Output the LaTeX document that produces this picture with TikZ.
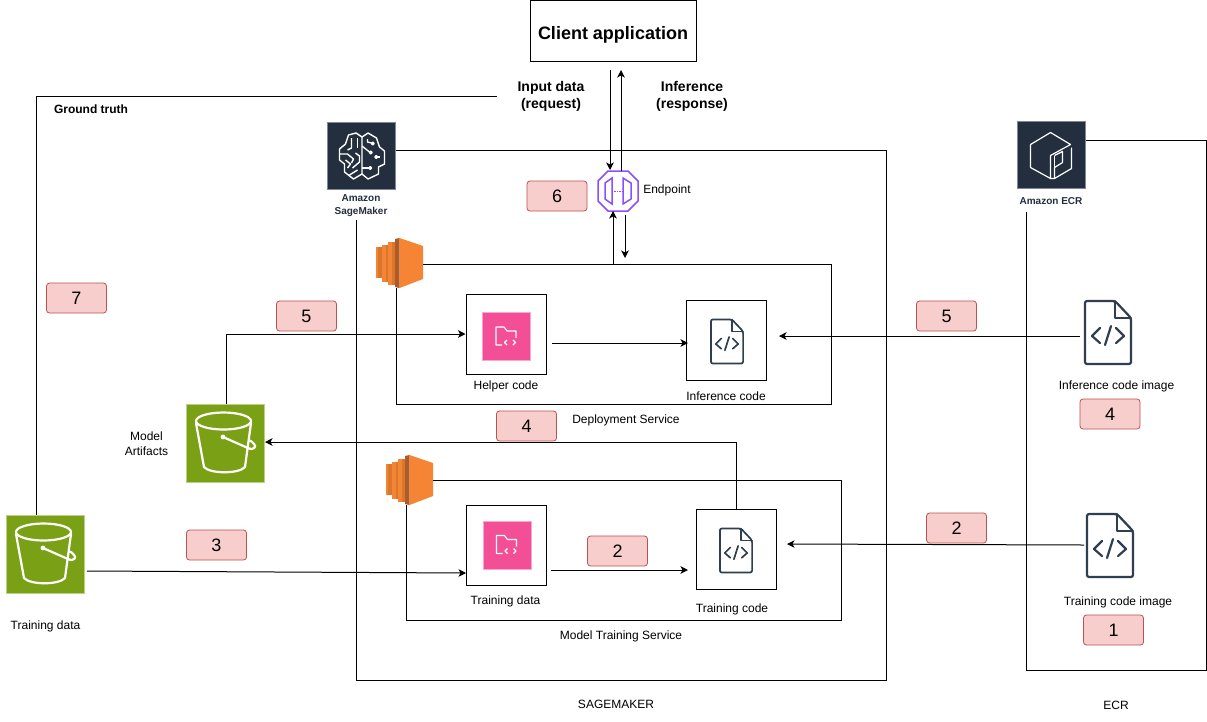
\documentclass[tikz,border=0pt]{standalone}
\usepackage{fontspec}
\setmainfont{Liberation Sans}
\usetikzlibrary{arrows.meta}
\definecolor{awsdark}{HTML}{232F3E}
\definecolor{awsborder}{HTML}{7D8998}
\definecolor{s3green}{HTML}{7AA116}
\definecolor{s3edge}{HTML}{BCD08A}
\definecolor{pinkfill}{HTML}{F34F97}
\definecolor{pinkedge}{HTML}{F9A7CB}
\definecolor{ecorange}{HTML}{F58534}
\definecolor{ecdark}{HTML}{9D5025}
\definecolor{ecmid}{HTML}{D9772C}
\definecolor{endp}{HTML}{8C4FFF}
\definecolor{redfill}{HTML}{F8CECC}
\definecolor{rededge}{HTML}{B85450}
\definecolor{doccol}{HTML}{2F3E50}
\newcommand{\doclw}{2.2pt}
\tikzset{
  frameline/.style={draw=black,line width=1pt},
  conn/.style={draw=black,line width=1pt,-{Stealth[length=7.5pt,width=7.5pt,inset=2pt]}},
  whitebox/.style={draw=black,line width=1pt,fill=white,minimum width=80pt,minimum height=80pt,inner sep=0pt},
  awsicon/.style={draw=awsborder,line width=.8pt,fill=awsdark,inner sep=0pt,minimum width=68pt,minimum height=67pt},
  bucketbox/.style={draw=s3edge,line width=1pt,fill=s3green,inner sep=0pt,minimum width=78pt,minimum height=78pt},
  pinkbox/.style={draw=pinkedge,line width=1pt,fill=pinkfill,inner sep=0pt,minimum width=48pt,minimum height=48pt},
  badge/.style={draw=rededge,line width=.8pt,fill=redfill,rounded corners=3pt,minimum width=60pt,minimum height=30pt,inner sep=0pt,font=\fontsize{18}{20}\selectfont},
  lab/.style={inner sep=0pt,align=center,yshift=-.8pt,font=\fontsize{12}{15}\selectfont},
  blab/.style={inner sep=0pt,align=center,yshift=-.8pt,font=\fontsize{14}{17}\selectfont\bfseries},
  iconlab/.style={inner sep=0pt,align=center,text=awsdark,font=\fontsize{10}{13}\selectfont\bfseries},
  bucketpic/.pic={
    \begin{scope}[shift={(-39.5,-39.5)},draw=white,line width=2.2pt,line join=round,line cap=round]
      \draw (37.5,17) ellipse [x radius=27.5,y radius=8.5];
      \draw (10,19) -- (18,63) .. controls (24,70) and (53,70) .. (59,63) -- (65,19);
      \fill[white] (37,33) circle (2.4);
      \draw (37,33) -- (62,44) .. controls (68,47) and (71,42) .. (68,40) .. controls (67,38) and (65,37) .. (63.5,36.5);
    \end{scope}},
  docpic/.pic={
    \begin{scope}[shift={(-23,-31.5)},draw=doccol,line join=round,line cap=round,line width=\doclw]
      \draw[rounded corners=2pt] (0,0) -- (30,0) -- (46,17) -- (46,63) -- (0,63) -- cycle;
      \draw (30,0) -- (30,17) -- (46,17);
      \draw (15,27) -- (7,35) -- (15,42);
      \draw (20,44) -- (26,25);
      \draw (31,27) -- (39,35) -- (31,42);
    \end{scope}},
  folderpic/.pic={
    \begin{scope}[shift={(-24.5,-24.5)},draw=white,line width=1.1pt,line join=round]
      \draw (20,33) -- (14,33) -- (14,15) -- (22,15) -- (25,19) -- (34,19) -- (34,26);
      \draw (25,28) -- (22.5,30.5) -- (25,33);
      \draw (31,28) -- (33.5,30.5) -- (31,33);
    \end{scope}},
  ecpic/.pic={
    \begin{scope}[shift={(-23.5,-25)}]
      \fill[ecorange] (0,9) rectangle (6,40);
      \fill[ecmid] (2,9) rectangle (6,40);
      \fill[ecorange] (6,6.5) rectangle (12,43.5);
      \fill[ecmid] (10,6.5) rectangle (12,43.5);
      \fill[ecorange] (12,4) rectangle (19,46.5);
      \fill[ecmid] (16,4) rectangle (19,46.5);
      \fill[ecdark!80!ecorange] (19,1) -- (23.5,0) -- (23.5,50) -- (19,49) -- cycle;
      \fill[ecorange] (23.5,0) -- (47,8) -- (47,41) -- (23.5,50) -- cycle;
    \end{scope}},
  endpic/.pic={
    \begin{scope}[shift={(-20,-20)},draw=endp,line width=1.5pt,line join=miter]
      \draw (10,0) -- (30,0) -- (40,10) -- (40,30) -- (30,40) -- (10,40) -- (0,30) -- (0,10) -- cycle;
      \draw (14,7) -- (14,33) -- (7,28) -- (7,12) -- cycle;
      \draw (25,7) -- (33,12) -- (33,28) -- (25,33) -- cycle;
      \draw[line width=.8pt,dash pattern=on 1.5pt off 1pt] (16,20) -- (24,20);
    \end{scope}},
  brainpic/.pic={
    \begin{scope}[shift={(-34,-33.5)},draw=white,line width=1.4pt,line join=round]
      \draw (34.5,15) -- (28.5,11) -- (21,13) -- (18,22) -- (12,27) -- (12,38) -- (17,42) -- (17,50) -- (26,57) -- (34.5,52) -- cycle;
      \draw (34.5,15) -- (40.5,11) -- (49,16) -- (52,25) -- (57,29) -- (57,42) -- (51,45) -- (51,52) -- (40.5,57) -- (34.5,52);
      \draw (34.5,24) -- (42,30); \draw (43.3,30.5) circle (1.4);
      \draw (34.5,46) -- (41.5,46); \draw (42.8,46) circle (1.4);
      \draw (40,17) -- (40,20) -- (44,21); \draw (45.3,21.5) circle (1.4);
      \draw (52,35) -- (50,35); \draw (48.7,35) circle (1.4);
      \draw (24,16) -- (24,26) -- (20,28);
      \draw (30,16) -- (30,26);
      \draw (12,32) -- (20,32) -- (26,37) -- (24,41);
      \draw (18,38) -- (23,42) -- (20,46);
      \draw (28,31) -- (32,34) -- (32,40) -- (25,46);
      \draw (22,53) -- (30,48);
    \end{scope}},
  ecrpic/.pic={
    \begin{scope}[shift={(-34,-33.5)},draw=white,line width=1.2pt,line join=round]
      \draw (33,11) -- (13,23) -- (13,46) -- (33,57) -- (33,34) -- (53,23) -- (33,11);
      \draw (33,57) -- (37,57) -- (54,47) -- (54,26);
      \draw (37,34) -- (45,30) -- (45,41) -- (37,46) -- (37,57);
      \draw (37,34) -- (37,46);
    \end{scope}}
}
\begin{document}
\begin{tikzpicture}[x=1pt,y=-1pt]
\useasboundingbox (0,0) rectangle (1207,721);
\fill[white] (0,0) rectangle (1207,721);

% main icons
\node[awsicon] (sm) at (361.5,155.5) {};
\pic at (sm.center) {brainpic};
\node[iconlab] (smlab) at (361,205.5) {Amazon\\SageMaker};
\node[awsicon] (ecr) at (1051.5,155) {};
\pic at (ecr.center) {ecrpic};
\node[iconlab] (ecrlab) at (1051,201.5) {Amazon ECR};

% client
\node[draw=black,line width=1pt,fill=white,minimum width=166pt,minimum height=61pt,inner sep=0pt] (client) at (613,31) {};
\node[inner sep=0pt,font=\fontsize{18}{20}\selectfont\bfseries] (clientlab) at (613,34.5) {Client application};

% frames
\coordinate (smA) at (886.5,150.5); \coordinate (smB) at (886.5,680.5); \coordinate (smC) at (356.5,680.5); \coordinate (smEnd) at (356.5,220);
\draw[frameline] (sm.east |- smA) -- (smA) -- (smB) -- (smC) -- (smEnd);
\coordinate (ecrA) at (1206,140.5); \coordinate (ecrB) at (1206,670); \coordinate (ecrC) at (1026.5,670); \coordinate (ecrEnd) at (1026.5,212);
\draw[frameline] (ecr.east |- ecrA) -- (ecrA) -- (ecrB) -- (ecrC) -- (ecrEnd);

% EC2
\node[inner sep=0pt,minimum width=47pt,minimum height=50pt] (ecd) at (399.5,263) {};
\pic at (ecd.center) {ecpic};
\node[inner sep=0pt,minimum width=47pt,minimum height=50pt] (ect) at (409.5,480) {};
\pic at (ect.center) {ecpic};
\coordinate (dA) at (831,264.5); \coordinate (dB) at (831,404.5); \coordinate (dC) at (396,404.5); \coordinate (dEnd) at (396,288);
\draw[frameline] (ecd.east |- dA) -- (dA) -- (dB) -- (dC) -- (dEnd);
\coordinate (tA) at (841,480.5); \coordinate (tB) at (841,620.5); \coordinate (tC) at (406,620.5); \coordinate (tEnd) at (406,505);
\draw[frameline] (ect.east |- tA) -- (tA) -- (tB) -- (tC) -- (tEnd);

% boxes
\node[whitebox] (helper) at (506,334) {};
\node[pinkbox] (helperI) at (506.5,336.5) {};
\pic at (helperI.center) {folderpic};
\node[whitebox] (inf) at (726.5,340) {};
\node[inner sep=0pt,minimum width=32pt,minimum height=45pt] (infI) at (727,341.5) {};
\begin{scope}\renewcommand{\doclw}{1.7pt}
\pic[scale=.7] at (infI.center) {docpic};
\end{scope}
\node[whitebox] (tdata) at (506,545) {};
\node[pinkbox] (tdataI) at (507,545) {};
\pic at (tdataI.center) {folderpic};
\node[whitebox] (tcode) at (736,549) {};
\node[inner sep=0pt,minimum width=32pt,minimum height=45pt] (tcodeI) at (736,550.5) {};
\begin{scope}\renewcommand{\doclw}{1.7pt}
\pic[scale=.7] at (tcodeI.center) {docpic};
\end{scope}

% S3
\node[bucketbox] (art) at (225.5,443.5) {};
\pic at (art.center) {bucketpic};
\node[bucketbox] (s3t) at (45.5,554.5) {};
\pic at (s3t.center) {bucketpic};

% images
\node[inner sep=0pt,minimum width=46pt,minimum height=63pt] (infimg) at (1108,332.5) {};
\pic at (infimg.center) {docpic};
\node[inner sep=0pt,minimum width=46pt,minimum height=63pt] (trimg) at (1110,545.5) {};
\pic at (trimg.center) {docpic};

% endpoint
\node[inner sep=0pt,minimum width=40pt,minimum height=40pt] (ep) at (618,191) {};
\pic at (ep.center) {endpic};

% connectors
\coordinate (inA) at (610,70); \coordinate (inB) at (610,170);
\draw[conn] (inA) -- (inB);
\coordinate (outA) at (621,171); \coordinate (outB) at (621,70);
\draw[conn] (outA) -- (outB);
\coordinate (upA) at (613,264); \coordinate (upB) at (613,211);
\draw[conn] (upA) -- (upB);
\coordinate (dnA) at (625,215); \coordinate (dnB) at (625,258);
\draw[conn] (dnA) -- (dnB);
\coordinate (gtA) at (497,96); \coordinate (gtB) at (36,96);
\draw[frameline] (gtA) -- (gtB) -- (s3t.north -| gtB);
\coordinate (maB) at (226.5,334);
\draw[conn] (art.north -| maB) -- (maB) -- (helper.west);
\coordinate (hiA) at (552,343); \coordinate (hiB) at (688,343);
\draw[conn] (hiA) -- (hiB);
\coordinate (imA) at (1080,336); \coordinate (imB) at (779,336);
\draw[conn] (imA) -- (imB);
\coordinate (mtB) at (736,442);
\draw[conn] (tcode.north) -- (mtB) -- (art.east |- mtB);
\coordinate (sdA) at (87,571); \coordinate (sdB) at (466,573);
\draw[conn] (sdA) -- (sdB);
\coordinate (tcA) at (551,570); \coordinate (tcB) at (688,570);
\draw[conn] (tcA) -- (tcB);
\coordinate (trA) at (1084,545); \coordinate (trB) at (787,544);
\draw[conn] (trA) -- (trB);

% badges
\node[badge] (b6) at (557,196) {6};
\node[badge] (b7) at (76.5,298) {7};
\node[badge] (b5a) at (306.5,316) {5};
\node[badge] (b5b) at (946.5,316) {5};
\node[badge] (b4a) at (526.5,426) {4};
\node[badge] (b4b) at (1110,414) {4};
\node[badge] (b2a) at (617.5,551) {2};
\node[badge] (b3) at (216.5,545) {3};
\node[badge] (b2b) at (956.5,528) {2};
\node[badge] (b1) at (1113.5,630) {1};

% labels
\node[blab] (l1) at (551,96) {Input data\\(request)};
\node[blab] (l2) at (692,96) {Inference\\(response)};
\node[inner sep=0pt,font=\fontsize{12}{14}\selectfont\bfseries] (l3) at (91,109.5) {Ground truth};
\node[lab] (l4) at (667,190) {Endpoint};
\node[lab] (l5) at (146.5,443) {Model\\Artifacts};
\node[lab] (l6) at (45.5,625.5) {Training data};
\node[lab] (l7) at (506,385.5) {Helper code};
\node[lab] (l8) at (726,395.5) {Inference code};
\node[lab] (l9) at (626,419.5) {Deployment Service};
\node[lab] (l10) at (505.5,600.5) {Training data};
\node[lab] (l11) at (732,608.5) {Training code};
\node[lab] (l12) at (621,635.5) {Model Training Service};
\node[lab] (l13) at (616,703.5) {SAGEMAKER};
\node[lab] (l14) at (1116,704.5) {ECR};
\node[lab] (l15) at (1116.5,385.5) {Inference code image};
\node[lab] (l16) at (1118,601.5) {Training code image};
\end{tikzpicture}
\end{document}
